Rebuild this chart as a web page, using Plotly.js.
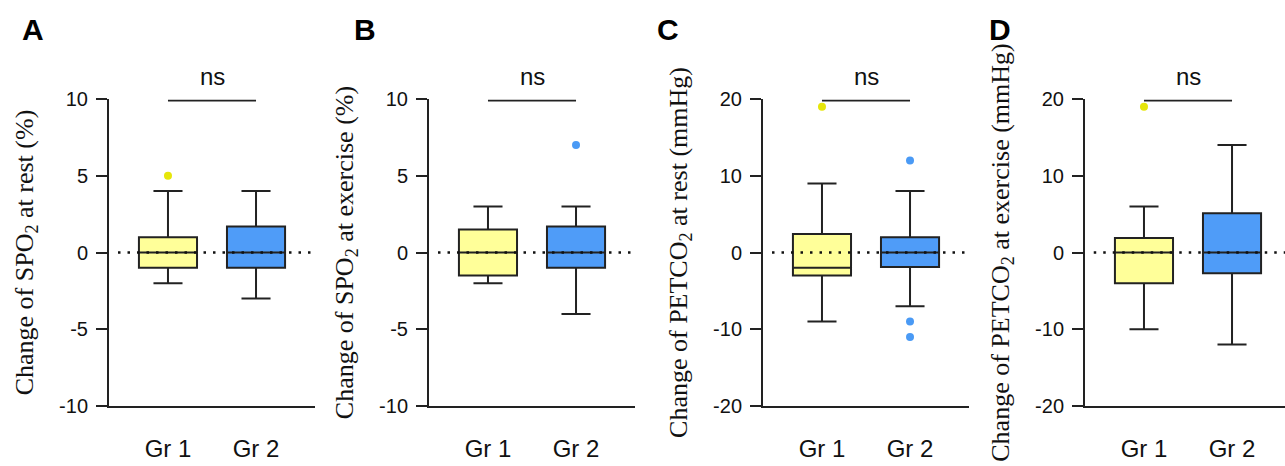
<!DOCTYPE html>
<html>
<head>
<meta charset="utf-8">
<script src="https://cdn.plot.ly/plotly-3.0.1.min.js"></script>
<style>html,body{margin:0;padding:0;background:#fff;}#chart{width:1285px;height:466px;}</style>
</head>
<body>
<div id="chart"></div>
<script>
// ---- data ----
const groups = ['Gr 1', 'Gr 2'];
const panelLetters = ['A', 'B', 'C', 'D'];
const yTitles = [
  'Change of SPO<sub>2</sub> at rest (%)',
  'Change of SPO<sub>2</sub> at exercise (%)',
  'Change of PETCO<sub>2</sub> at rest (mmHg)',
  'Change of PETCO<sub>2</sub> at exercise (mmHg)'
];
const yRanges = [[-10, 10], [-10, 10], [-20, 20], [-20, 20]];
const yTickValsSPO = [-10, -5, 0, 5, 10];
const yTickTextSPO = ['-10', '-5', '0', '5', '10'];
const yTickValsPET = [-20, -10, 0, 10, 20];
const yTickTextPET = ['-20', '-10', '0', '10', '20'];

// box statistics per panel: [Gr 1, Gr 2]
const lowerA = [-2, -3],   q1A = [-1, -1],    medA = [0, 0],  q3A = [1, 1.7],   upperA = [4, 4];
const lowerB = [-2, -4],   q1B = [-1.5, -1],  medB = [0, 0],  q3B = [1.5, 1.7], upperB = [3, 3];
const lowerC = [-9, -7],   q1C = [-3, -1.9],  medC = [-2, 0], q3C = [2.4, 2],   upperC = [9, 8];
const lowerD = [-10, -12], q1D = [-4, -2.7],  medD = [0, 0],  q3D = [1.9, 5.1], upperD = [6, 14];

// outliers per panel
const outGroupA = ['Gr 1'],                         outValA = [5];
const outGroupB = ['Gr 2'],                         outValB = [7];
const outGroupC = ['Gr 1', 'Gr 2', 'Gr 2', 'Gr 2'], outValC = [19, 12, -9, -11];
const outGroupD = ['Gr 1'],                         outValD = [19];

const sigLabel = ['ns', 'ns', 'ns', 'ns'];

// ---- styling ----
const boxFill = ['#FFFF99', '#4F9CF8'];
const outlierColor = {'Gr 1': '#E6E60A', 'Gr 2': '#4A9AF5'};
const ink = '#222222';
const sans = 'Liberation Sans, Arial, sans-serif';
const serif = 'Liberation Serif, Times New Roman, serif';

const stats = [
  [lowerA, q1A, medA, q3A, upperA],
  [lowerB, q1B, medB, q3B, upperB],
  [lowerC, q1C, medC, q3C, upperC],
  [lowerD, q1D, medD, q3D, upperD]
];
const outliers = [[outGroupA, outValA], [outGroupB, outValB], [outGroupC, outValC], [outGroupD, outValD]];
const tickSets = [[yTickValsSPO, yTickTextSPO], [yTickValsSPO, yTickTextSPO], [yTickValsPET, yTickTextPET], [yTickValsPET, yTickTextPET]];

// pixel layout helpers
const W = 1285, H = 466;
const axisLeftPx = [109, 429, 763, 1085];
const axisLenPx = 206;
const yTopPx = 99, yBotPx = 406;
const xRangeFull = [-0.67, 1.67];

const traces = [];
const layout = {
  width: W, height: H,
  margin: {l: 0, r: 0, t: 0, b: 0},
  paper_bgcolor: '#fff', plot_bgcolor: 'rgba(0,0,0,0)',
  showlegend: false,
  boxmode: 'overlay',
  font: {family: sans, color: '#111'},
  shapes: [], annotations: []
};

for (let p = 0; p < 4; p++) {
  const sfx = p === 0 ? '' : String(p + 1);
  const xa = 'x' + sfx, ya = 'y' + sfx;
  const [lo, q1, med, q3, up] = stats[p];
  for (let g = 0; g < 2; g++) {
    traces.push({
      type: 'box', xaxis: xa, yaxis: ya,
      x: [groups[g]],
      lowerfence: [lo[g]], q1: [q1[g]], median: [med[g]], q3: [q3[g]], upperfence: [up[g]],
      fillcolor: boxFill[g],
      line: {color: ink, width: 2},
      width: 0.66, whiskerwidth: 0.5,
      hoverinfo: 'skip'
    });
  }
  const [og, ov] = outliers[p];
  traces.push({
    type: 'scatter', mode: 'markers', xaxis: xa, yaxis: ya,
    x: og, y: ov,
    marker: {size: 8, color: og.map(c => outlierColor[c])},
    hoverinfo: 'skip', cliponaxis: false
  });

  const left = axisLeftPx[p];
  const right = Math.min(left + axisLenPx, W);
  const frac = (right - left) / axisLenPx;
  const xr = [xRangeFull[0], xRangeFull[0] + (xRangeFull[1] - xRangeFull[0]) * frac];

  layout['xaxis' + sfx] = {
    domain: [left / W, right / W], anchor: ya,
    type: 'category', categoryarray: groups, range: xr,
    showline: true, linecolor: ink, linewidth: 2,
    ticks: '', showgrid: false, zeroline: false,
    tickfont: {size: 24, family: sans, color: '#111'},
    ticklabelstandoff: 20, fixedrange: true
  };
  layout['yaxis' + sfx] = {
    domain: [1 - yBotPx / H, 1 - yTopPx / H], anchor: xa,
    range: yRanges[p], tickmode: 'array', tickvals: tickSets[p][0], ticktext: tickSets[p][1],
    showline: true, linecolor: ink, linewidth: 2,
    ticks: 'outside', ticklen: 11, tickwidth: 2, tickcolor: ink,
    showgrid: false, zeroline: false,
    tickfont: {size: 20, family: sans, color: '#111'},
    ticklabelstandoff: 4,
    title: {text: yTitles[p], font: {size: 26, family: serif, color: '#111'}, standoff: 18},
    fixedrange: true
  };

  // dotted zero reference line
  layout.shapes.push({
    type: 'line', xref: xa + ' domain', yref: ya,
    x0: 9 / axisLenPx, x1: 1, y0: 0, y1: 0,
    line: {color: '#111', width: 2.5, dash: '2.5px,7px'}, layer: 'above'
  });
  // significance bracket
  const ytop = yRanges[p][1] * 0.99;
  layout.shapes.push({
    type: 'line', xref: xa, yref: ya,
    x0: 0, x1: 1, y0: ytop, y1: ytop,
    line: {color: ink, width: 1.8}
  });
  layout.annotations.push({
    xref: xa, yref: ya, x: 0.5, y: ytop, yanchor: 'bottom', yshift: 9,
    text: sigLabel[p], showarrow: false,
    font: {size: 24, family: sans, color: '#111'}
  });
}

// panel letters
const letterX = [20, 352, 655, 987];
for (let p = 0; p < 4; p++) {
  layout.annotations.push({
    xref: 'paper', yref: 'paper', x: letterX[p] / W, y: 1 - 11 / H,
    xanchor: 'left', yanchor: 'top', showarrow: false,
    text: '<b>' + panelLetters[p] + '</b>',
    font: {size: 30, family: sans, color: '#000'}
  });
}

Plotly.newPlot('chart', traces, layout, {displayModeBar: false, staticPlot: true});
</script>
</body>
</html>
